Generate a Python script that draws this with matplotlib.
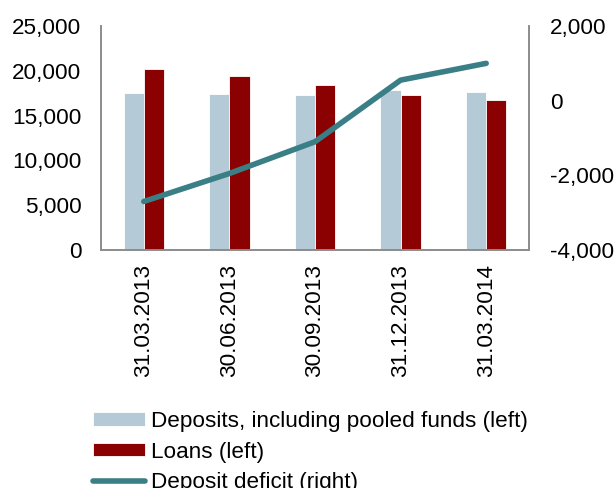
import matplotlib
matplotlib.use("Agg")
import matplotlib.pyplot as plt
import numpy as np

dates = ["31.03.2013", "30.06.2013", "30.09.2013", "31.12.2013", "31.03.2014"]
deposits = [17500, 17450, 17300, 17850, 17650]
loans = [20200, 19400, 18450, 17300, 16750]
deficit = [-2700, -1950, -1100, 550, 1000]

left_ticks = [0, 5000, 10000, 15000, 20000, 25000]
right_ticks = [-4000, -2000, 0, 2000]

plt.rcParams['font.family'] = ['Liberation Sans', 'DejaVu Sans']
FS = 16.2

fig = plt.figure(figsize=(6.14, 4.88), dpi=100)
ax = fig.add_axes([101/614, 1-250/488, (529-101)/614, (250-26)/488])
ax2 = ax.twinx()

x = np.arange(len(dates))
w = 0.235
b1 = ax.bar(x - w/2, deposits, w, color='#B4CAD6', edgecolor='white', linewidth=0.6,
            label='Deposits, including pooled funds (left)', zorder=2)
b2 = ax.bar(x + w/2, loans, w, color='#8B0000', edgecolor='white', linewidth=0.6,
            label='Loans (left)', zorder=2)
l1, = ax2.plot(x, deficit, color='#3A7E86', linewidth=4, solid_capstyle='round',
               solid_joinstyle='round', label='Deposit deficit (right)')

ax.set_xlim(-0.5, len(dates) - 0.5)
ax.set_ylim(0, 25000)
ax2.set_ylim(-4000, 2000)
ax.set_yticks(left_ticks)
ax.set_yticklabels([f"{v:,}" for v in left_ticks])
ax2.set_yticks(right_ticks)
ax2.set_yticklabels([f"{v:,}" for v in right_ticks])
ax.set_xticks(x)
ax.set_xticklabels(dates, rotation=90)

for a in (ax, ax2):
    a.tick_params(length=0, labelsize=FS, colors='black')
    a.spines['top'].set_visible(False)
    for s in ('left', 'right', 'bottom'):
        a.spines[s].set_color('#8C8C8C')
        a.spines[s].set_linewidth(1.2)
ax.tick_params(axis='y', pad=14)
ax2.tick_params(axis='y', pad=15)
ax.tick_params(axis='x', pad=10)

fig.legend(handles=[b1, b2, l1], loc='upper left', bbox_to_anchor=(93/614, 1-411/488),
           frameon=False, fontsize=FS, handlelength=2.3, handleheight=0.53,
           handletextpad=0.27, labelspacing=0.43, borderpad=0, borderaxespad=0)

fig.savefig("out.png", dpi=100)
